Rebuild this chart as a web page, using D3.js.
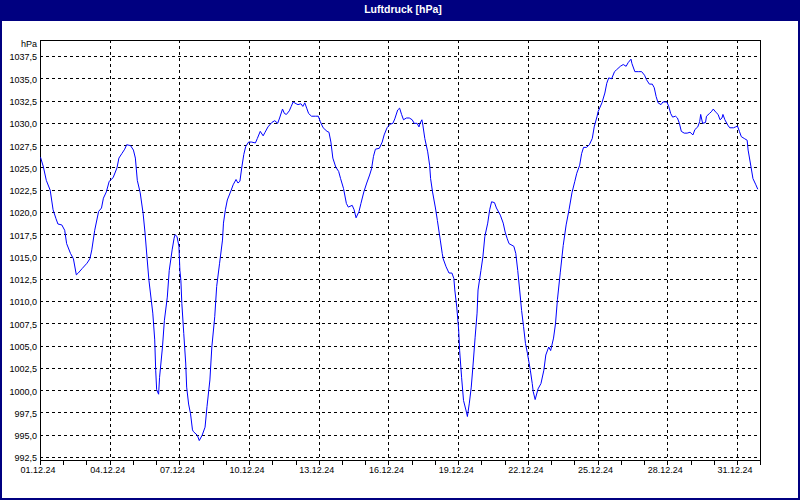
<!DOCTYPE html>
<html><head><meta charset="utf-8">
<script src="https://cdn.jsdelivr.net/npm/d3@7"></script>
<style>
body{margin:0;background:#fff}
svg{display:block}
text{font-family:"Liberation Sans",Arial,sans-serif;font-size:9px;fill:#000}
</style></head><body>
<svg id="c" width="800" height="500"></svg>
<script>
const title = "Luftdruck [hPa]";
const unitLabel = "hPa";
// hours since 01.12.24 00:00
const hours = [0,3,6,10,13,16,18,22,25,27,31,34,37,39,43,48,51,53,56,60,63,65,68,71,75,79,81,84,87,89,93,96,98,100,103,106,108,110,112,116,118,119,120,122,123,126,128,131,133,136,138,139,141,143,144,145,146,148,150,151,153,155,157,158,162,164,167,170,172,175,177,180,182,185,188,189,191,193,197,199,202,204,206,208,210,212,215,218,222,224,227,230,232,235,239,242,245,247,250,252,254,257,259,261,264,266,269,271,273,275,277,280,284,287,289,292,296,298,300,302,305,308,310,313,316,318,322,324,326,329,331,334,337,340,342,344,346,350,353,355,358,361,364,366,369,371,373,375,378,381,384,386,389,391,392,394,395,397,400,402,403,405,408,410,413,415,416,419,422,425,427,428,430,432,433,435,437,440,441,443,445,447,449,451,452,455,457,459,462,464,466,469,471,475,478,480,482,484,489,491,493,495,497,499,501,503,506,508,509,511,514,517,520,522,525,527,530,532,534,537,540,543,546,549,552,554,557,559,561,564,567,570,572,575,576,580,583,585,587,590,593,595,599,602,605,607,610,611,614,618,621,624,626,629,632,634,636,638,641,643,647,649,651,653,656,658,660,662,665,668,671,674,676,679,681,682,684,687,688,691,693,695,698,700,702,704,705,707,710,712,716,718,720,722,724,727,730,731,734,736,739,741];
const pressure = [1026.2,1025.1,1023.6,1022.5,1020.3,1019.3,1018.7,1018.6,1018.0,1016.5,1015.4,1014.8,1013.0,1013.2,1013.7,1014.3,1014.8,1015.8,1018.0,1020.1,1020.5,1021.6,1022.3,1023.5,1023.9,1025.0,1026.1,1026.6,1027.1,1027.6,1027.5,1027.0,1026.1,1023.6,1022.2,1019.9,1017.7,1015.0,1012.4,1008.7,1005.7,1002.3,1000.1,999.6,1001.5,1004.9,1007.9,1010.5,1013.5,1015.8,1017.1,1017.5,1017.3,1016.2,1013.5,1012.4,1009.8,1006.4,1003.1,1000.4,998.5,997.4,995.6,995.4,995.0,994.4,995.0,995.9,998.2,1001.2,1004.9,1008.3,1011.7,1014.3,1016.9,1018.8,1020.3,1021.4,1022.5,1023.1,1023.7,1023.3,1023.5,1025.1,1026.5,1027.4,1027.9,1027.9,1027.8,1028.3,1029.1,1028.6,1029.0,1029.6,1030.1,1030.3,1030.0,1030.6,1031.6,1031.1,1031.0,1031.4,1031.9,1032.4,1032.2,1032.1,1032.2,1031.9,1032.3,1031.7,1031.1,1030.8,1030.8,1030.8,1030.2,1029.5,1029.1,1029.0,1027.9,1026.1,1025.1,1024.6,1023.8,1022.7,1021.0,1020.6,1020.8,1020.3,1019.4,1020.1,1021.0,1022.3,1023.3,1024.2,1024.9,1026.3,1027.1,1027.2,1027.9,1028.7,1029.5,1029.9,1030.0,1030.5,1031.5,1031.7,1031.0,1030.4,1030.6,1030.6,1030.4,1030.0,1030.0,1029.6,1030.0,1030.4,1029.8,1028.3,1026.8,1025.3,1023.8,1022.3,1020.5,1019.1,1016.9,1015.4,1014.8,1013.9,1013.2,1013.2,1012.6,1011.3,1009.4,1006.8,1004.5,1001.5,998.9,997.6,997.1,998.6,1000.4,1003.1,1006.0,1008.7,1011.3,1013.5,1015.0,1017.3,1018.8,1020.3,1021.2,1021.1,1020.5,1019.7,1018.8,1017.8,1017.1,1016.5,1016.2,1015.4,1013.5,1011.3,1009.0,1007.2,1005.3,1004.2,1002.3,1000.8,999.9,999.0,1000.2,1000.8,1002.3,1004.0,1004.9,1004.5,1005.9,1007.5,1010.2,1013.3,1016.3,1018.6,1020.3,1022.2,1023.5,1024.4,1025.3,1026.6,1027.3,1027.3,1027.6,1028.3,1029.6,1030.8,1031.3,1032.3,1033.4,1034.5,1035.1,1035.0,1035.8,1036.0,1036.4,1036.6,1036.4,1036.8,1037.2,1036.7,1035.8,1035.8,1035.8,1035.4,1034.9,1034.4,1034.4,1034.0,1033.0,1032.3,1032.1,1032.4,1032.4,1031.9,1031.1,1030.7,1030.8,1030.6,1030.0,1029.1,1028.9,1028.9,1029.0,1028.7,1029.3,1029.6,1030.2,1031.0,1030.0,1030.1,1030.8,1031.1,1031.3,1031.6,1031.2,1031.0,1030.4,1030.6,1031.0,1030.4,1029.8,1029.5,1029.5,1029.6,1029.7,1029.1,1028.5,1028.3,1028.1,1027.0,1025.1,1023.8,1023.1,1022.6];
const xTickDays = [0,3,6,9,12,15,18,21,24,27,30];
const xTickLabels = ["01.12.24","04.12.24","07.12.24","10.12.24","13.12.24","16.12.24","19.12.24","22.12.24","25.12.24","28.12.24","31.12.24"];
const yTicks = [992.5,995,997.5,1000,1002.5,1005,1007.5,1010,1012.5,1015,1017.5,1020,1022.5,1025,1027.5,1030,1032.5,1035,1037.5];
const yTickLabels = ["992,5","995,0","997,5","1000,0","1002,5","1005,0","1007,5","1010,0","1012,5","1015,0","1017,5","1020,0","1022,5","1025,0","1027,5","1030,0","1032,5","1035,0","1037,5"];

const t0 = Date.UTC(2024,11,1);
const toDate = h => new Date(t0 + h*3600e3);
const data = hours.map((h,i)=>({t:toDate(h), v:pressure[i]}));

const svg = d3.select("#c");
const L=40, R=760, T=40, B=460;
const x = d3.scaleUtc().domain([toDate(0), toDate(744)]).range([40.5, 760.7]);
const y = d3.scaleLinear().domain([992.5,1037.5]).range([457.5,56.5]);
const px = v => Math.floor(v)+0.5;

// frame + title bar
svg.append("rect").attr("x",0).attr("y",0).attr("width",800).attr("height",21).attr("fill","#000080");
svg.append("rect").attr("x",1).attr("y",1).attr("width",798).attr("height",498)
  .attr("fill","none").attr("stroke","#000080").attr("stroke-width",2);
svg.append("text").attr("x",403).attr("y",12.5).attr("text-anchor","middle")
  .style("fill","#fff").style("font-weight","bold").style("font-size","10.5px").text(title);

// horizontal grid
svg.append("g").selectAll("line").data(yTicks).join("line")
  .attr("x1",L).attr("x2",R).attr("y1",d=>px(y(d))).attr("y2",d=>px(y(d)))
  .attr("stroke","#000").attr("stroke-dasharray","3,3").attr("shape-rendering","crispEdges");
// vertical grid
svg.append("g").selectAll("line").data(xTickDays.slice(1)).join("line")
  .attr("x1",d=>px(x(toDate(d*24)))).attr("x2",d=>px(x(toDate(d*24))))
  .attr("y1",T).attr("y2",B)
  .attr("stroke","#000").attr("stroke-dasharray","3,3").attr("shape-rendering","crispEdges");

// daily minor ticks via axis
const dayDates = d3.range(0,32).map(d=>toDate(d*24));
const ax = svg.append("g").attr("transform",`translate(0,${B+0.5})`)
  .call(d3.axisBottom(x).tickValues(dayDates).tickSize(4).tickFormat(""));
ax.select(".domain").remove();
ax.selectAll(".tick line").attr("stroke","#000").attr("shape-rendering","crispEdges");
ax.selectAll(".tick").attr("transform",d=>`translate(${px(x(d))},0)`);

// x labels via axis
const axl = svg.append("g").attr("transform",`translate(-3,${B})`)
  .call(d3.axisBottom(x).tickValues(xTickDays.map(d=>toDate(d*24))).tickSize(0).tickPadding(7)
    .tickFormat((d,i)=>xTickLabels[i]));
axl.select(".domain").remove();
axl.selectAll("text").style("font-family",'"Liberation Sans",Arial,sans-serif').style("font-size","9px").attr("fill","#000");

// y labels via axis
const ayl = svg.append("g").attr("transform",`translate(${L-3},0.5)`)
  .call(d3.axisLeft(y).tickValues(yTicks).tickSize(0).tickPadding(0)
    .tickFormat((d,i)=>yTickLabels[i]));
ayl.select(".domain").remove();
ayl.selectAll("text").style("font-family",'"Liberation Sans",Arial,sans-serif').style("font-size","9px").attr("fill","#000");

svg.append("text").attr("x",L-3).attr("y",47).attr("text-anchor","end").text(unitLabel);

// plot box
svg.append("rect").attr("x",L+0.5).attr("y",T+0.5).attr("width",R-L).attr("height",B-T)
  .attr("fill","none").attr("stroke","#000").attr("shape-rendering","crispEdges");

// data line
svg.append("path").datum(data)
  .attr("d", d3.line().x(d=>x(d.t)).y(d=>y(d.v)))
  .attr("fill","none").attr("stroke","#0000ff").attr("stroke-width",1);
</script>
</body></html>
